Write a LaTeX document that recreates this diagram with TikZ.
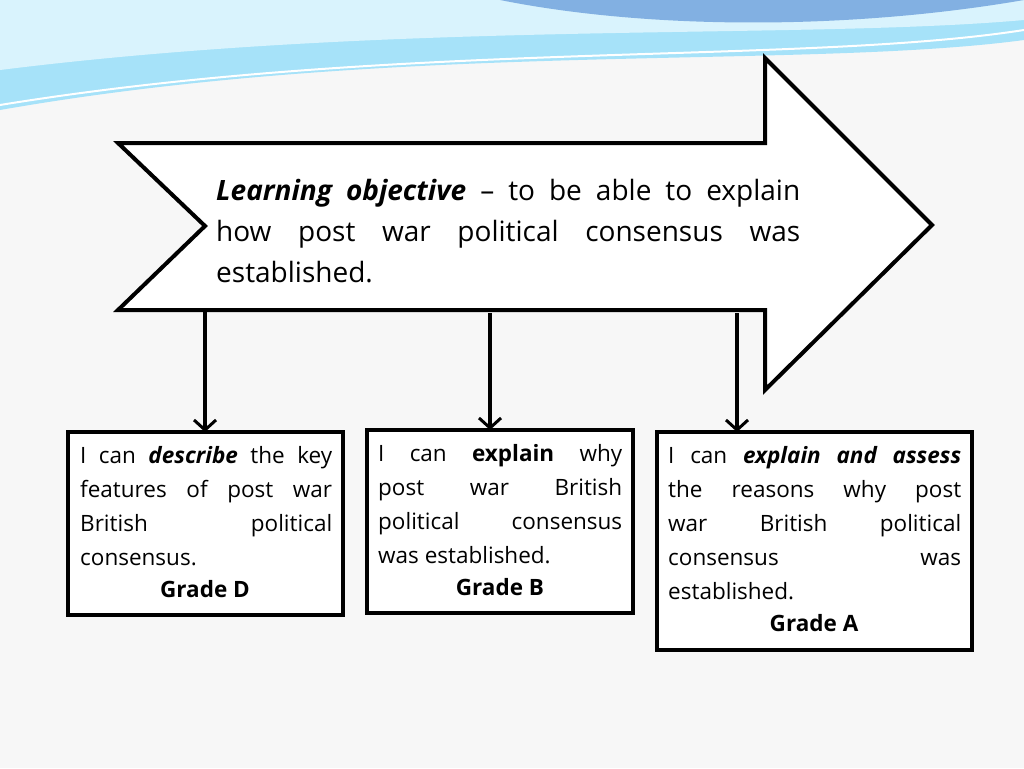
\documentclass[tikz,border=0pt]{standalone}
\usepackage{fontspec}
\setmainfont{Open Sans}
\usetikzlibrary{arrows.meta,positioning}
\tikzset{
  goalbox/.style={draw=black,line width=4pt,fill=white},
  boxtext/.style={text width=252pt,align=justify,anchor=north west,inner sep=0pt,
    font=\fontsize{22.5}{34}\selectfont},
  gradetext/.style={anchor=north,inner sep=0pt,font=\fontsize{22.5}{34}\selectfont\bfseries},
  downarrow/.style={line width=4pt,-{Straight Barb[length=10pt,width=22pt,line width=3pt]}}
}
\begin{document}
\begin{tikzpicture}[x=1pt,y=-1pt]
\useasboundingbox (0,0) rectangle (1024,768);
\fill[white!94!gray] (0,0) rectangle (1024,768);
% top wave
\fill[cyan!35!white] (0,0) -- (1024,0) -- (1024,40) .. controls (800,70) and (400,40) .. (0,110) -- cycle;
\fill[cyan!15!white] (0,0) -- (1024,0) -- (1024,20) .. controls (800,40) and (400,20) .. (0,70) -- cycle;
\draw[white,line width=2pt] (0,105) .. controls (400,40) and (800,65) .. (1024,30);
\fill[cyan!60!blue!50!white] (500,0) .. controls (650,30) and (850,30) .. (1024,0) -- cycle;
% big arrow
\draw[goalbox,line join=miter] (118,143) -- (765,143) -- (765,58) -- (932,225) -- (765,390)
  -- (765,310) -- (118,310) -- (205,226) -- cycle;
\node[text width=584pt,align=justify,anchor=north west,inner sep=0pt,
  font=\fontsize{28}{41}\selectfont] (goal) at (216,179)
  {\textbf{\textit{Learning objective}} -- to be able to explain\linebreak how post war political consensus was\linebreak established.};
% boxes
\draw[goalbox] (68,432) rectangle (343,615);
\draw[goalbox] (367,430) rectangle (633,613);
\draw[goalbox] (657,432) rectangle (972,650);
\coordinate (boxD) at (205,432);
\coordinate (boxB) at (490,430);
\coordinate (boxA) at (737,432);
\node[boxtext] (textD) at (80,446)
  {I can \textbf{\textit{describe}} the key\linebreak features of post war\linebreak British political\linebreak consensus.};
\node[gradetext] (gradeD) at (205,580) {Grade D};
\node[boxtext,text width=244pt] (textB) at (378,444)
  {I can \textbf{explain} why\linebreak post war British\linebreak political consensus\linebreak was established.};
\node[gradetext] (gradeB) at (500,578) {Grade B};
\node[boxtext,text width=293pt] (textA) at (668,446)
  {I can \textbf{\textit{explain and assess}}\linebreak the reasons why post\linebreak war British political\linebreak consensus was\linebreak established.};
\node[gradetext] (gradeA) at (814,614) {Grade A};
% arrows
\coordinate (startD) at (205,310);
\coordinate (startB) at (490,313);
\coordinate (startA) at (737,313);
\draw[downarrow] (startD) -- (boxD);
\draw[downarrow] (startB) -- (boxB);
\draw[downarrow] (startA) -- (boxA);
\end{tikzpicture}
\end{document}
